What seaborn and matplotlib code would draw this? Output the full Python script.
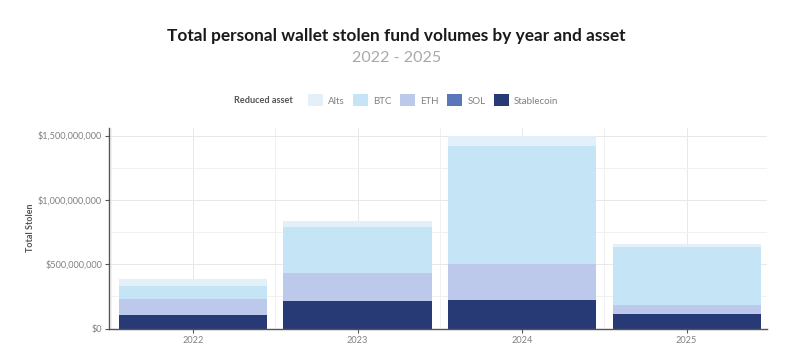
import numpy as np
import pandas as pd
import seaborn as sns
import matplotlib.pyplot as plt
from matplotlib.patches import Patch
from matplotlib.ticker import FuncFormatter, MultipleLocator

# Values (USD)
years = ["2022", "2023", "2024", "2025"]
assets = ["Alts", "BTC", "ETH", "SOL", "Stablecoin"]
stablecoin = [105e6, 214e6, 222e6, 113e6]
sol = [2e6, 2e6, 3e6, 2e6]
eth = [122e6, 213e6, 277e6, 68e6]
btc = [101e6, 363e6, 917e6, 448e6]
alts = [53e6, 42e6, 78e6, 26e6]

colors = {"Alts": "#e3f0fa", "BTC": "#c5e5f6", "ETH": "#bcc9ea",
          "SOL": "#5b77bb", "Stablecoin": "#283a75"}

df = pd.DataFrame({"year": years, "Stablecoin": stablecoin, "SOL": sol,
                   "ETH": eth, "BTC": btc, "Alts": alts})

# cumulative heights, bottom to top
stack_order = ["Stablecoin", "SOL", "ETH", "BTC", "Alts"]
cum = df[stack_order].cumsum(axis=1)

sns.set_theme(style="white")
plt.rcParams["font.family"] = ["Lato", "DejaVu Sans"]

fig = plt.figure(figsize=(7.93, 3.56), dpi=100)
ax = fig.add_axes([0.1375, 0.077, 0.83, 0.564])

# draw tallest first so each layer shows on top of the one below
for name in reversed(stack_order):
    sns.barplot(x=df["year"], y=cum[name], color=colors[name], width=0.9,
                saturation=1, linewidth=0, ax=ax, zorder=2)

ax.set_xlim(-0.51, 3.49)
ax.set_ylim(0, 1.56e9)
ax.yaxis.set_major_locator(MultipleLocator(500e6))
ax.yaxis.set_minor_locator(MultipleLocator(250e6))
ax.xaxis.set_minor_locator(MultipleLocator(0.5))
ax.yaxis.set_major_formatter(FuncFormatter(lambda v, p: "${:,.0f}".format(v)))
ax.grid(True, which="major", color="#e8e8e8", linewidth=0.7, zorder=0)
ax.grid(True, which="minor", color="#f1f1f1", linewidth=0.7, zorder=0)
ax.set_axisbelow(True)

for s in ["top", "right"]:
    ax.spines[s].set_visible(False)
for s in ["left", "bottom"]:
    ax.spines[s].set_color("#555555")
    ax.spines[s].set_linewidth(1.0)

ax.tick_params(axis="both", which="major", labelsize=6.6, colors="#808080",
               length=3, width=0.8, direction="out", pad=2)
ax.tick_params(axis="y", which="major", color="#555555", left=True)
ax.tick_params(axis="x", which="major", color="#555555", bottom=True)
ax.tick_params(which="minor", length=0)

ax.set_xlabel("")
ax.set_ylabel("Total Stolen", fontsize=6.5, fontweight="bold", color="#555555")
ax.yaxis.set_label_coords(-0.112, 0.5)

fig.text(0.5, 0.90, "Total personal wallet stolen fund volumes by year and asset",
         ha="center", va="center", fontsize=12.4, fontweight="bold", color="#1a1a1a")
fig.text(0.5, 0.838, "2022 - 2025", ha="center", va="center", fontsize=11.5, color="#a8a8a8")

fig.text(0.295, 0.718, "Reduced asset", ha="left", va="center", fontsize=6.6,
         fontweight="bold", color="#555555")
handles = [Patch(facecolor=colors[a], edgecolor="none") for a in assets]
leg = fig.legend(handles, assets, loc="center left", bbox_to_anchor=(0.388, 0.718),
                 ncol=5, frameon=False, fontsize=7, handlelength=1.55, handleheight=1.55,
                 handletextpad=0.5, columnspacing=0.9, borderaxespad=0, borderpad=0)
for t in leg.get_texts():
    t.set_color("#808080")

fig.savefig("out.png", dpi=100, facecolor="white")
